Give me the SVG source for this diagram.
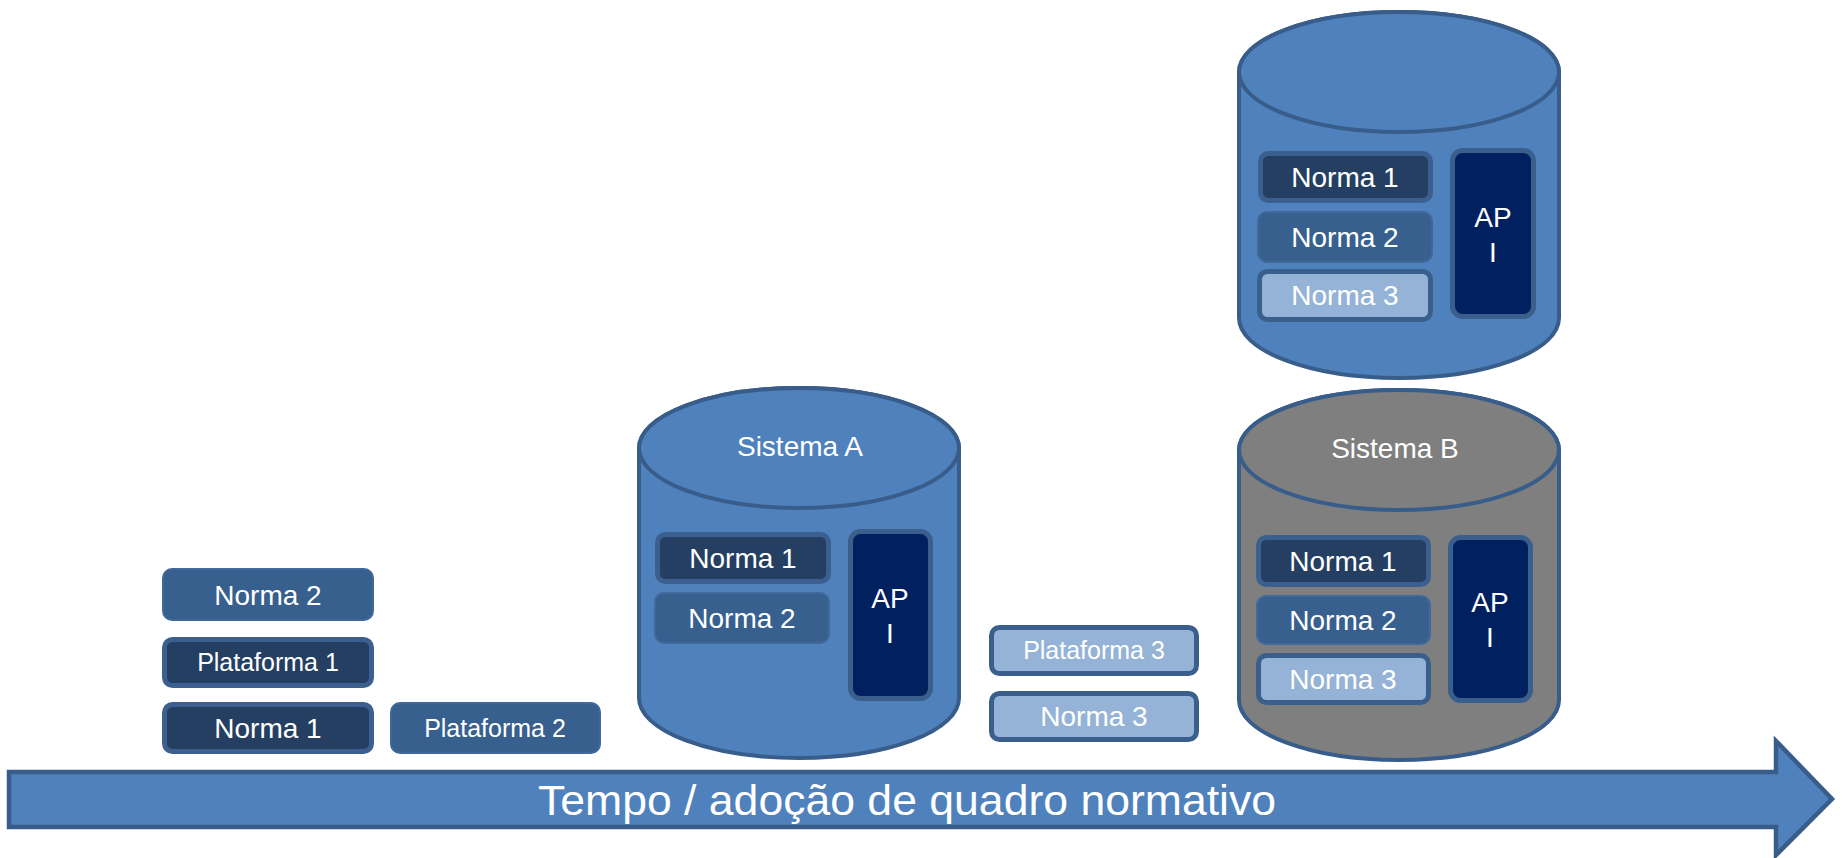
<svg xmlns="http://www.w3.org/2000/svg" width="1843" height="858" viewBox="0 0 1843 858">
<style>
text{font-family:"Liberation Sans",Arial,sans-serif;fill:#ffffff;text-anchor:middle}
.n{font-size:28px}
.p{font-size:25px}
.big{font-size:43px}
.cyl{fill:#4f81bd;stroke:#385d8a;stroke-width:4}
.cylg{fill:#7f7f7f;stroke:#385d8a;stroke-width:4}
.dark{fill:#253f62;stroke:#3b5f8e;stroke-width:5}
.mid{fill:#37608f;stroke:#41689a;stroke-width:2}
.light{fill:#95b3d7;stroke:#3a5f8c;stroke-width:5}
.api{fill:#002060;stroke:#3a5f8c;stroke-width:5}
</style>
<rect width="1843" height="858" fill="#ffffff"/>
<g id="connectors">
<g id="arrow">
<polygon points="9,772 1776,772 1776,741 1832,799 1776,855 1776,827 9,827" fill="#4f81bd" stroke="#385d8a" stroke-width="4.5" stroke-linejoin="miter"/>
<text class="big" x="907" y="815" textLength="738" lengthAdjust="spacingAndGlyphs">Tempo / adoção de quadro normativo</text>
</g>
</g>
<g id="left-items">
<g id="l-norma2"><rect class="mid" x="163" y="569" width="210" height="51" rx="9"/><text class="n" x="268" y="605">Norma 2</text></g>
<g id="l-plataforma1"><rect class="dark" x="164.5" y="639.5" width="207" height="46" rx="8"/><text class="p" x="268" y="671">Plataforma 1</text></g>
<g id="l-norma1"><rect class="dark" x="164.5" y="704.5" width="207" height="47" rx="8"/><text class="n" x="268" y="738">Norma 1</text></g>
<g id="l-plataforma2"><rect class="mid" x="391" y="703" width="209" height="50" rx="9"/><text class="p" x="495" y="737">Plataforma 2</text></g>
</g>
<g id="sistema-a">
<path class="cyl" d="M639,448 L639,698 A160,60 0 0 0 959,698 L959,448 A160,60 0 0 0 639,448 Z"/>
<ellipse class="cyl" cx="799" cy="448" rx="160" ry="60"/>
<text class="n" x="800" y="456">Sistema A</text>
<g id="a-norma1"><rect class="dark" x="657.5" y="534.5" width="171" height="47" rx="8"/><text class="n" x="743" y="568">Norma 1</text></g>
<g id="a-norma2"><rect class="mid" x="655" y="593" width="174" height="50" rx="9"/><text class="n" x="742" y="628">Norma 2</text></g>
<g id="a-api"><rect class="api" x="850.5" y="531.5" width="80" height="167" rx="10"/><text class="n" x="890" y="608">AP</text><text class="n" x="890" y="643">I</text></g>
</g>
<g id="middle-items">
<g id="m-plataforma3"><rect class="light" x="991.5" y="627.5" width="205" height="46" rx="8"/><text class="p" x="1094" y="659">Plataforma 3</text></g>
<g id="m-norma3"><rect class="light" x="991.5" y="693.5" width="205" height="46" rx="8"/><text class="n" x="1094" y="726">Norma 3</text></g>
</g>
<g id="sistema-top">
<path class="cyl" d="M1239,72 L1239,318 A160,60 0 0 0 1559,318 L1559,72 A160,60 0 0 0 1239,72 Z"/>
<ellipse class="cyl" cx="1399" cy="72" rx="160" ry="60"/>
<g id="t-norma1"><rect class="dark" x="1260.5" y="153.5" width="170" height="47" rx="8"/><text class="n" x="1345" y="187">Norma 1</text></g>
<g id="t-norma2"><rect class="mid" x="1258" y="212" width="174" height="50" rx="9"/><text class="n" x="1345" y="247">Norma 2</text></g>
<g id="t-norma3"><rect class="light" x="1259.5" y="271.5" width="171" height="48" rx="8"/><text class="n" x="1345" y="305">Norma 3</text></g>
<g id="t-api"><rect class="api" x="1452.5" y="150.5" width="81" height="166" rx="10"/><text class="n" x="1493" y="227">AP</text><text class="n" x="1493" y="262">I</text></g>
</g>
<g id="sistema-b">
<path class="cylg" d="M1239,450 L1239,700 A160,60 0 0 0 1559,700 L1559,450 A160,60 0 0 0 1239,450 Z"/>
<ellipse class="cylg" cx="1399" cy="450" rx="160" ry="60"/>
<text class="n" x="1395" y="458">Sistema B</text>
<g id="b-norma1"><rect class="dark" x="1258.5" y="537.5" width="170" height="47" rx="8"/><text class="n" x="1343" y="571">Norma 1</text></g>
<g id="b-norma2"><rect class="mid" x="1257" y="596" width="173" height="48" rx="9"/><text class="n" x="1343" y="630">Norma 2</text></g>
<g id="b-norma3"><rect class="light" x="1258.5" y="655.5" width="170" height="47" rx="8"/><text class="n" x="1343" y="689">Norma 3</text></g>
<g id="b-api"><rect class="api" x="1450.5" y="537.5" width="80" height="163" rx="10"/><text class="n" x="1490" y="612">AP</text><text class="n" x="1490" y="647">I</text></g>
</g>
</svg>
